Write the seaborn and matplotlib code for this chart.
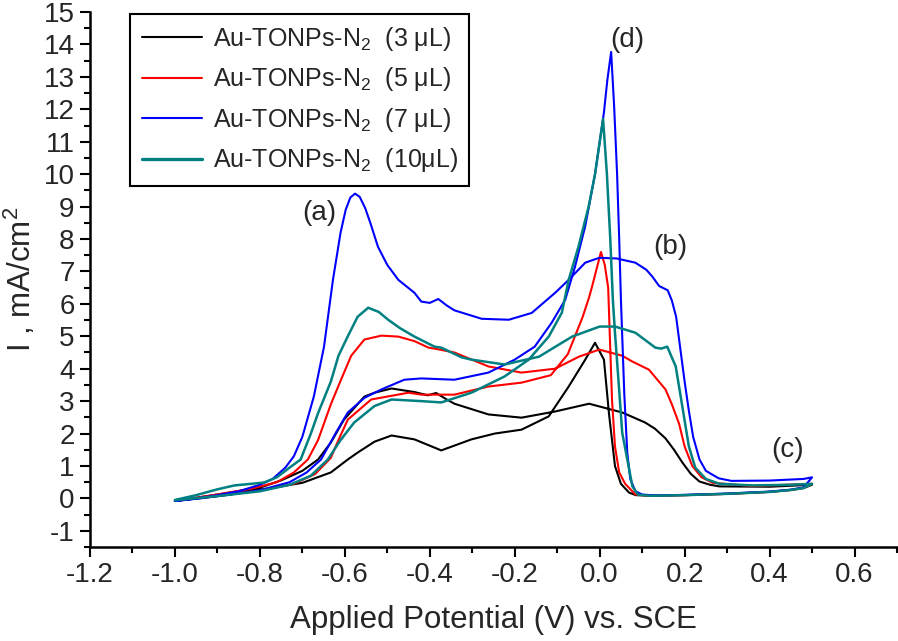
import matplotlib
matplotlib.use('Agg')
import matplotlib.pyplot as plt
from matplotlib.ticker import MultipleLocator, AutoMinorLocator
import pandas as pd
import seaborn as sns

# Cyclic voltammograms: potential (V vs SCE) and current (mA/cm2)
# forward scan (-1.0 -> 0.5) and reverse scan (0.5 -> -1.0) for each loading

au3_fwd_v = [-1.0, -0.9, -0.8, -0.751, -0.7, -0.663, -0.633, -0.602, -0.554, -0.53, -0.49, -0.436,
             -0.405, -0.385, -0.36, -0.342, -0.262, -0.184, -0.105, -0.025, 0.053, 0.107, 0.13,
             0.155, 0.175, 0.195, 0.215, 0.235, 0.26, 0.282, 0.4, 0.5]
au3_fwd_i = [-0.08, 0.12, 0.33, 0.55, 0.85, 1.2, 1.72, 2.43, 3.14, 3.26, 3.39, 3.28,
             3.18, 3.25, 3.05, 2.92, 2.59, 2.49, 2.68, 2.92, 2.65, 2.34, 2.15,
             1.85, 1.5, 1.1, 0.75, 0.52, 0.42, 0.37, 0.36, 0.42]
au3_rev_v = [0.5, 0.48, 0.45, 0.4, 0.3, 0.2, 0.12, 0.085, 0.069, 0.05, 0.036, 0.022, 0.01,
             -0.011, -0.034, -0.073, -0.12, -0.184, -0.247, -0.302, -0.373, -0.436, -0.49,
             -0.53, -0.569, -0.593, -0.633, -0.7, -0.751, -0.87, -1.0]
au3_rev_i = [0.42, 0.32, 0.26, 0.2, 0.14, 0.1, 0.08, 0.1, 0.18, 0.45, 1.0, 2.6, 4.28,
             4.8, 4.28, 3.45, 2.53, 2.12, 2.0, 1.82, 1.48, 1.82, 1.94,
             1.75, 1.42, 1.2, 0.8, 0.48, 0.37, 0.12, -0.08]

au5_fwd_v = [-1.0, -0.9, -0.82, -0.76, -0.72, -0.687, -0.663, -0.633, -0.609, -0.585, -0.554,
             -0.514, -0.474, -0.436, -0.403, -0.389, -0.342, -0.262, -0.184, -0.105, -0.049,
             -0.001, 0.053, 0.077, 0.116, 0.155, 0.17, 0.187, 0.2, 0.218, 0.24, 0.266, 0.36, 0.5]
au5_fwd_i = [-0.08, 0.12, 0.3, 0.5, 0.8, 1.2, 1.8, 2.9, 3.66, 4.4, 4.9,
             5.02, 4.99, 4.85, 4.65, 4.62, 4.5, 4.07, 3.88, 4.0, 4.37,
             4.59, 4.4, 4.22, 3.97, 3.36, 2.9, 2.3, 1.6, 1.0, 0.65, 0.48, 0.38, 0.45]
au5_rev_v = [0.5, 0.48, 0.45, 0.4, 0.3, 0.2, 0.12, 0.084, 0.06, 0.046, 0.036, 0.029, 0.02,
             0.012, 0.003, -0.018, -0.025, -0.04, -0.075, -0.115, -0.184, -0.262, -0.342,
             -0.42, -0.45, -0.538, -0.593, -0.615, -0.633, -0.67, -0.72, -0.8, -0.9, -1.0]
au5_rev_i = [0.45, 0.32, 0.26, 0.2, 0.14, 0.1, 0.08, 0.12, 0.45, 0.8, 1.6, 3.05, 6.5,
             7.2, 7.6, 6.53, 6.2, 5.6, 4.45, 3.8, 3.57, 3.45, 3.2,
             3.2, 3.26, 3.05, 2.43, 1.8, 1.25, 0.75, 0.45, 0.24, 0.08, -0.08]

au7_fwd_v = [-1.0, -0.95, -0.9, -0.85, -0.8, -0.77, -0.74, -0.72, -0.7, -0.673, -0.649,
             -0.628, -0.61, -0.598, -0.587, -0.576, -0.565, -0.552, -0.54, -0.522, -0.5,
             -0.474, -0.436, -0.42, -0.4, -0.38, -0.36, -0.342, -0.278, -0.214, -0.16,
             -0.105, -0.073, -0.034, -0.001, 0.04, 0.084, 0.11, 0.124, 0.14, 0.16, 0.17,
             0.18, 0.19, 0.2, 0.21, 0.22, 0.235, 0.25, 0.28, 0.31, 0.4, 0.48, 0.5]
au7_fwd_i = [-0.08, 0.0, 0.1, 0.22, 0.42, 0.6, 0.95, 1.3, 1.9, 3.14, 4.68,
             6.74, 8.2, 8.9, 9.28, 9.4, 9.3, 8.95, 8.5, 7.76, 7.2,
             6.74, 6.34, 6.07, 6.03, 6.15, 5.95, 5.8, 5.54, 5.51, 5.72,
             6.34, 6.74, 7.27, 7.42, 7.4, 7.27, 7.05, 6.84, 6.55, 6.42, 6.1,
             5.6, 4.6, 3.6, 2.7, 1.9, 1.2, 0.85, 0.62, 0.54, 0.55, 0.6, 0.65]
au7_rev_v = [0.5, 0.48, 0.45, 0.4, 0.3, 0.2, 0.13, 0.1, 0.084, 0.072, 0.065, 0.058, 0.05,
             0.046, 0.041, 0.034, 0.027, 0.018, 0.01, -0.011, -0.034, -0.058, -0.081,
             -0.113, -0.153, -0.2, -0.262, -0.342, -0.42, -0.46, -0.514, -0.554, -0.593,
             -0.62, -0.656, -0.69, -0.73, -0.8, -0.87, -0.94, -1.0]
au7_rev_i = [0.65, 0.34, 0.27, 0.21, 0.15, 0.11, 0.09, 0.12, 0.22, 0.6, 1.4, 3.2, 6.13,
             7.98, 10.0, 12.1, 13.77, 12.9, 11.9, 10.0, 8.4, 7.15, 6.13,
             5.42, 4.68, 4.28, 3.88, 3.66, 3.7, 3.66, 3.36, 3.1, 2.65,
             2.05, 1.2, 0.8, 0.5, 0.25, 0.12, 0.0, -0.08]

au10_fwd_v = [-1.0, -0.95, -0.9, -0.86, -0.82, -0.79, -0.76, -0.73, -0.704, -0.68, -0.663,
              -0.633, -0.615, -0.593, -0.57, -0.545, -0.52, -0.498, -0.47, -0.436, -0.389,
              -0.373, -0.325, -0.302, -0.224, -0.143, -0.065, 0.0, 0.036, 0.084, 0.131,
              0.145, 0.159, 0.179, 0.19, 0.2, 0.21, 0.225, 0.25, 0.282, 0.36, 0.45, 0.5]
au10_fwd_i = [-0.05, 0.1, 0.28, 0.4, 0.45, 0.49, 0.65, 0.95, 1.2, 2.0, 2.63,
              3.6, 4.4, 5.0, 5.6, 5.88, 5.75, 5.51, 5.25, 4.99, 4.68,
              4.65, 4.35, 4.28, 4.13, 4.37, 4.99, 5.3, 5.3, 5.11, 4.65,
              4.62, 4.68, 4.07, 3.2, 2.4, 1.6, 0.95, 0.6, 0.45, 0.4, 0.42, 0.45]
au10_rev_v = [0.5, 0.48, 0.45, 0.4, 0.3, 0.2, 0.12, 0.09, 0.077, 0.065, 0.053, 0.045,
              0.036, 0.031, 0.025, 0.017, 0.008, -0.011, -0.026, -0.05, -0.073, -0.089,
              -0.12, -0.167, -0.224, -0.302, -0.373, -0.42, -0.49, -0.53, -0.578, -0.61,
              -0.64, -0.68, -0.73, -0.8, -0.9, -1.0]
au10_rev_i = [0.45, 0.32, 0.26, 0.2, 0.14, 0.1, 0.08, 0.12, 0.37, 1.2, 2.03, 3.5,
              5.11, 6.13, 7.98, 10.0, 11.7, 10.0, 9.0, 7.76, 6.74, 5.73,
              4.99, 4.28, 3.76, 3.26, 2.96, 3.0, 3.05, 2.85, 2.34, 1.8,
              1.2, 0.7, 0.42, 0.22, 0.07, -0.06]

labels = ['Au-TONPs-N$_2$  (3 μL)', 'Au-TONPs-N$_2$  (5 μL)',
          'Au-TONPs-N$_2$  (7 μL)', 'Au-TONPs-N$_2$  (10μL)']
colors = ['#000000', '#ff0000', '#0000ff', '#008080']

curves = [(au3_fwd_v + au3_rev_v, au3_fwd_i + au3_rev_i),
          (au5_fwd_v + au5_rev_v, au5_fwd_i + au5_rev_i),
          (au7_fwd_v + au7_rev_v, au7_fwd_i + au7_rev_i),
          (au10_fwd_v + au10_rev_v, au10_fwd_i + au10_rev_i)]

# long table, keep scan order so the loops close properly
rows = []
for lab, (vv, ii) in zip(labels, curves):
    for k, (v, i) in enumerate(zip(vv, ii)):
        rows.append({'E': v, 'I': i, 'sample': lab, 'step': k})
df = pd.DataFrame(rows)

sns.set_style('ticks')
plt.rcParams['font.family'] = ['Liberation Sans', 'DejaVu Sans']
plt.rcParams['mathtext.fontset'] = 'custom'
plt.rcParams['mathtext.rm'] = 'Liberation Sans'
plt.rcParams['mathtext.it'] = 'Liberation Sans:italic'

fig = plt.figure(figsize=(8.98, 6.41), dpi=100)
ax = fig.add_axes([0.1002, 0.1466, 0.8987, 0.8346])

sns.lineplot(data=df, x='E', y='I', hue='sample', palette=colors, hue_order=labels,
             sort=False, estimator=None, linewidth=1.5, ax=ax)
ax.lines[3].set_linewidth(1.8)

ax.set_xlim(-1.2, 0.7)
ax.set_ylim(-1.5, 15)
ax.xaxis.set_major_locator(MultipleLocator(0.2))
ax.xaxis.set_minor_locator(AutoMinorLocator(2))
ax.yaxis.set_major_locator(MultipleLocator(1))
ax.yaxis.set_minor_locator(AutoMinorLocator(2))
ax.set_xticks([-1.2, -1.0, -0.8, -0.6, -0.4, -0.2, 0.0, 0.2, 0.4, 0.6])
ax.set_xticklabels(['-1.2', '-1.0', '-0.8', '-0.6', '-0.4', '-0.2', '0.0', '0.2', '0.4', '0.6'])
ax.set_yticks(range(-1, 16))
ax.set_yticklabels([str(t) for t in range(-1, 16)])
ax.tick_params(axis='both', which='major', direction='out', length=7, width=1.5,
               labelsize=20, color='black', pad=4)
ax.tick_params(axis='both', which='minor', direction='out', length=4, width=1.5, color='black')
sns.despine(ax=ax)
for s in ['left', 'bottom']:
    ax.spines[s].set_linewidth(1.8)
    ax.spines[s].set_color('black')

ax.set_xlabel('Applied Potential (V) vs. SCE', fontsize=22.5, labelpad=12)
ax.set_ylabel('I , mA/cm$^2$', fontsize=22.5, labelpad=4)

# peak labels
ax.text(-0.659, 8.8, '(a)', fontsize=20, ha='center', va='center')
ax.text(0.166, 7.76, '(b)', fontsize=20, ha='center', va='center')
ax.text(0.443, 1.5, '(c)', fontsize=20, ha='center', va='center')
ax.text(0.065, 14.14, '(d)', fontsize=20, ha='center', va='center')

leg = ax.legend(loc='upper left', bbox_to_anchor=(0.05, 0.997), fontsize=18, frameon=True,
                fancybox=False, framealpha=1, edgecolor='black', handlelength=2.4,
                labelspacing=0.5, borderpad=0.45, handletextpad=0.45, borderaxespad=0,
                title=None)
leg.get_frame().set_linewidth(1.5)
for h in leg.get_lines():
    h.set_linewidth(1.5)
leg.get_lines()[3].set_linewidth(2.4)

fig.savefig('out.png', dpi=100)
